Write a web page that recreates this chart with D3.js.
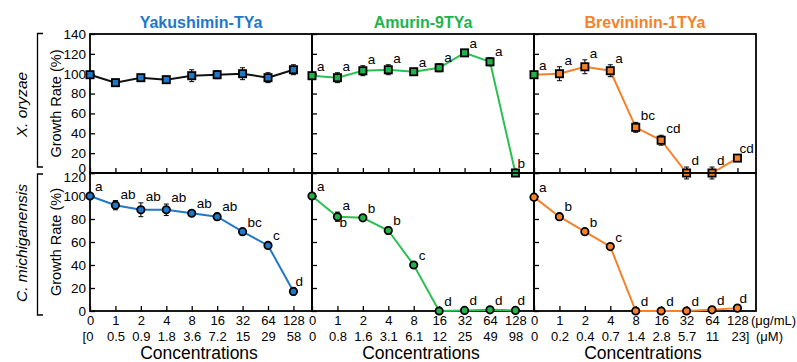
<!DOCTYPE html>
<html><head><meta charset="utf-8">
<script src="https://cdn.jsdelivr.net/npm/d3@7"></script>
<style>
body{margin:0;background:#fff;}
svg{display:block;font-family:"Liberation Sans",Arial,Helvetica,sans-serif;}
</style></head>
<body><svg id="c" width="797" height="362"></svg>
<script>
// ---- data ----
const peptides = ["Yakushimin-TYa","Amurin-9TYa","Brevininin-1TYa"];
const bacteria = ["X. oryzae","C. michiganensis"];
const concUg = ["0","1","2","4","8","16","32","64","128"];
const concUM_yak = ["[0","0.5","0.9","1.8","3.6","7.2","15","29","58"];
const concUM_amu = ["0","0.8","1.6","3.1","6.1","12","25","49","98"];
const concUM_bre = ["0","0.2","0.4","0.7","1.4","2.8","5.7","11","23]"];

const xo_yak = [99,91,96,94,98,99,100,96,104];
const xo_yak_err = [2,2,2,2,6,4,6,5,5];
const xo_yak_sig = ["","","","","","","","",""];
const xo_amu = [98,96,103,104,102,106,121,112,0];
const xo_amu_err = [3,5,5,5,3,4,2,4,3];
const xo_amu_sig = ["a","a","a","a","a","a","a","a","b"];
const xo_bre = [99,100,107,103,46,33,0,0,15];
const xo_bre_err = [3,7,7,6,5,5,6,6,3];
const xo_bre_sig = ["a","a","a","a","bc","cd","d","d","cd"];

const cm_yak = [100,92,88,88,85,82,69,57,17];
const cm_yak_err = [2,4,6,5,2,3,2,2,3];
const cm_yak_sig = ["a","ab","ab","ab","ab","ab","bc","c","d"];
const cm_amu = [100,82,81,70,40,0,0.5,1,0.5];
const cm_amu_err = [1,4,2,3,1,1,1,1,1];
const cm_amu_sig = ["a","a/b","b","b","c","d","d","d","d"];
const cm_bre = [99,82,69,56,0,0,0,1,2.5];
const cm_bre_err = [1,3,1,2,1,1,1,1,1];
const cm_bre_sig = ["a","b","b","c","d","d","d","d","d"];

const yTicksTop = [0,20,40,60,80,100,120,140];
const yTicksBot = [0,20,40,60,80,100,120];

// ---- styles ----
const colors = ["#1f78c8","#22b24c","#f5822a"];
const lineColorsTop = ["#111111","#2cbf52","#f5822a"];
const lineColorsBot = ["#1f78c8","#2cbf52","#f5822a"];

const svg = d3.select("#c");
const L = 90, R = 756, W = (R-L)/3;
const rows = [
  {top:34, bot:173, max:140, ticks:yTicksTop, shape:"square",
   series:[[xo_yak,xo_yak_err,xo_yak_sig],[xo_amu,xo_amu_err,xo_amu_sig],[xo_bre,xo_bre_err,xo_bre_sig]], lc:lineColorsTop},
  {top:173, bot:311, max:120, ticks:yTicksBot, shape:"circle",
   series:[[cm_yak,cm_yak_err,cm_yak_sig],[cm_amu,cm_amu_err,cm_amu_sig],[cm_bre,cm_bre_err,cm_bre_sig]], lc:lineColorsBot}
];
const umLabels = [concUM_yak, concUM_amu, concUM_bre];
const idx = d3.range(concUg.length);

rows.forEach((row, ri) => {
  const y = d3.scaleLinear().domain([0,row.max]).range([row.bot,row.top]);
  for (let p=0;p<3;p++){
    const x0 = L + p*W;
    const x = d3.scaleLinear().domain([0,8.73]).range([x0,x0+W]);
    const g = svg.append("g");
    // y axis inward ticks
    const ya = d3.axisLeft(y).tickValues(row.ticks).tickSizeInner(-5).tickSizeOuter(0).tickPadding(4);
    const yg = g.append("g").attr("transform",`translate(${x0},0)`).call(ya);
    yg.select(".domain").remove();
    yg.selectAll("line").attr("stroke","#000").attr("stroke-width",1.3);
    yg.selectAll("text").attr("font-size",13.5).attr("fill","#000").attr("font-family","Liberation Sans, Arial");
    if (p>0) yg.selectAll("text").remove();
    else {
      // stacked panels: lift top-row "0", drop bottom-row "120"
      if (ri===0) yg.selectAll("text").filter(d=>d===0).attr("y",-5);
      if (ri===1) yg.selectAll("text").filter(d=>d===row.max).attr("y",4.5);
    }
    // x axis inward ticks
    const xa = d3.axisBottom(x).tickValues(idx).tickSizeInner(-5).tickSizeOuter(0).tickPadding(5)
      .tickFormat(i=>concUg[i]);
    const xg = g.append("g").attr("transform",`translate(0,${row.bot})`).call(xa);
    xg.select(".domain").remove();
    xg.selectAll("line").attr("stroke","#000").attr("stroke-width",1.3);
    xg.selectAll("text").attr("font-size",13).attr("fill","#000").attr("font-family","Liberation Sans, Arial");
    if (ri===0) xg.selectAll("text").remove();
    if (ri===1){
      const xa2 = d3.axisBottom(x).tickValues(idx).tickSize(0).tickPadding(21).tickFormat(i=>umLabels[p][i]);
      const xg2 = g.append("g").attr("transform",`translate(0,${row.bot})`).call(xa2);
      xg2.select(".domain").remove();
      xg2.selectAll("text").attr("font-size",13).attr("fill","#000").attr("font-family","Liberation Sans, Arial")
        .attr("dx",d=>{const s=umLabels[p][d]; return s.startsWith("[")?-2.5:(s.endsWith("]")?2.5:0);});
      // Concentrations
      svg.append("text").attr("x",x0+W/2-2).attr("y",359).attr("text-anchor","middle")
        .attr("font-size",17.5).text("Concentrations");
      if (p===2){
        svg.append("text").attr("x",751).attr("y",325).attr("font-size",13).text("(μg/mL)");
        svg.append("text").attr("x",756).attr("y",340.5).attr("font-size",13).text("(μM)");
      }
    }
    // frame
    g.append("rect").attr("x",x0).attr("y",row.top).attr("width",W).attr("height",row.bot-row.top)
      .attr("fill","none").attr("stroke","#000").attr("stroke-width",1.8);

    const [vals, errs, sigs] = row.series[p];
    const line = d3.line().x((d,i)=>x(i)).y(d=>y(d));
    g.append("path").datum(vals).attr("d",line).attr("fill","none")
      .attr("stroke",row.lc[p]).attr("stroke-width",2);
    // error bars
    vals.forEach((v,i)=>{
      const cx=x(i);
      const yt=y(v+errs[i]), yb=y(v-errs[i]);
      g.append("line").attr("x1",cx).attr("x2",cx).attr("y1",yt).attr("y2",yb).attr("stroke","#000").attr("stroke-width",1);
      [yt,yb].forEach(yy=>g.append("line").attr("x1",cx-2.5).attr("x2",cx+2.5).attr("y1",yy).attr("y2",yy).attr("stroke","#000").attr("stroke-width",1));
    });
    // markers
    vals.forEach((v,i)=>{
      let fill = colors[p];
      if (ri===0 && p===2 && i===0) fill = colors[1];
      if (row.shape==="square"){
        g.append("rect").attr("x",x(i)-3.6).attr("y",y(v)-3.6).attr("width",7.2).attr("height",7.2)
          .attr("fill",fill).attr("stroke","#000").attr("stroke-width",1.8);
      } else {
        g.append("circle").attr("cx",x(i)).attr("cy",y(v)).attr("r",3.7)
          .attr("fill",fill).attr("stroke","#000").attr("stroke-width",1.8);
      }
    });
    // significance letters
    sigs.forEach((s,i)=>{
      if(!s) return;
      const parts = s.split("/");
      const ePx = y(vals[i]) - y(vals[i]+errs[i]);
      const by = Math.min(y(vals[i]) - ePx - 2, y(vals[i]) - 5);
      const dx = i===idx.length-1 ? 2 : 5;
      g.append("text").attr("x",x(i)+dx).attr("y",by).attr("font-size",13.5).text(parts[0]);
      if (parts[1]) g.append("text").attr("x",x(i)+2).attr("y",y(vals[i])+10).attr("font-size",13.5).text(parts[1]);
    });
    // titles
    if (ri===0){
      svg.append("text").attr("x",x0+W/2).attr("y",28).attr("text-anchor","middle")
        .attr("font-size",16).attr("font-weight","bold").attr("fill",colors[p]).text(peptides[p]);
    }
  }
  // y label
  const cy = (row.top+row.bot)/2;
  svg.append("text").attr("transform",`translate(61,${cy}) rotate(-90)`).attr("text-anchor","middle")
    .attr("font-size",14.5).text("Growth Rate (%)");
  svg.append("text").attr("transform",`translate(27,${cy+1}) rotate(-90)`).attr("text-anchor","middle")
    .attr("font-size",15.5).attr("font-style","italic").text(bacteria[ri]);
  // bracket
  const b0 = ri===0 ? 33.5 : 174, b1 = ri===0 ? 167 : 315;
  svg.append("path").attr("d",`M43,${b0}H37.5V${b1}H43`).attr("fill","none").attr("stroke","#000").attr("stroke-width",1.3);
});
</script></body></html>
